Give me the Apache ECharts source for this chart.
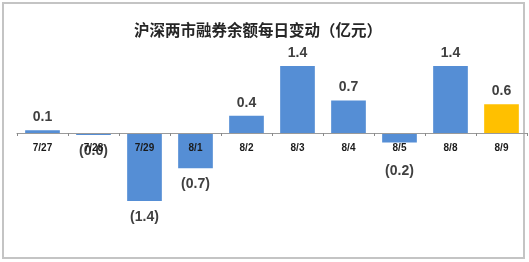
<!DOCTYPE html>
<html><head><meta charset="utf-8">
<script src="https://cdn.jsdelivr.net/npm/echarts@6/dist/echarts.min.js"></script>
<style>html,body{margin:0;padding:0;background:#fff}#c{width:529px;height:262px}</style>
</head><body><div id="c"></div>
<script>
const categories = ['7/27','7/28','7/29','8/1','8/2','8/3','8/4','8/5','8/8','8/9'];
const values = [0.06, -0.04, -1.42, -0.74, 0.36, 1.40, 0.68, -0.20, 1.40, 0.60];
const highlightIndex = 9;
const title = '沪深两市融券余额每日变动（亿元）';

function fmt(v){ const s = Math.abs(v).toFixed(1); return v < 0 ? '(' + s + ')' : s; }

const data = values.map((v, i) => {
  const item = { value: v, itemStyle: { color: i === highlightIndex ? '#FFC000' : '#558ED5' } };
  item.label = { position: v < 0 ? 'bottom' : 'top', distance: v < 0 ? (categories[i] === '8/5' ? 22 : 9) : 6 };
  return item;
});

const chart = echarts.init(document.getElementById('c'), null, { renderer: 'canvas' });
chart.setOption({
  animation: false,
  title: {
    text: title, left: 129, top: 17,
    textStyle: { fontFamily: 'Noto Sans CJK SC', fontWeight: 'bold', fontSize: 15.5, color: '#262626' }
  },
  graphic: [{
    type: 'rect', shape: { x: 3, y: 3, width: 521, height: 255 },
    style: { fill: 'none', stroke: '#c4c4c4', lineWidth: 2 }, silent: true, z: -1
  }],
  grid: { left: 17, right: 2, top: 37.4, height: 95.6 },
  xAxis: {
    type: 'category', data: categories, z: 10,
    axisLine: { onZero: false, lineStyle: { color: '#9a9a9a', width: 1 } },
    axisTick: { show: true, length: 3, lineStyle: { color: '#8a8a8a' } },
    axisLabel: { margin: 10, fontFamily: 'Liberation Sans', fontWeight: 'bold', fontSize: 10, color: '#1a1a1a', interval: 0 }
  },
  yAxis: { type: 'value', min: 0, max: 2, show: false, splitLine: { show: false } },
  series: [{
    type: 'bar', data: data, barCategoryGap: '32%', clip: false,
    label: {
      show: true, formatter: p => fmt(p.value),
      fontFamily: 'Liberation Sans', fontWeight: 'bold', fontSize: 14, color: '#404040'
    }
  }]
});
</script></body></html>
